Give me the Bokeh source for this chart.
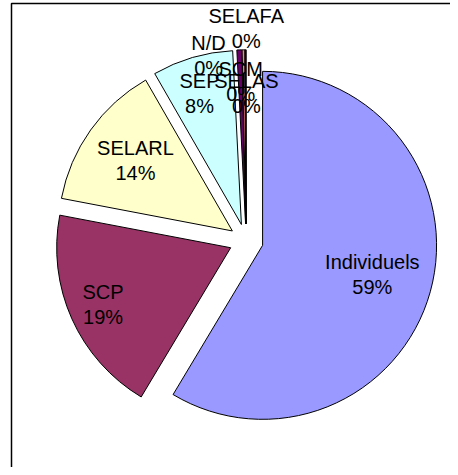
import math
from bokeh.plotting import figure
from bokeh.models import Range1d, ColumnDataSource
from bokeh.embed import file_html
from bokeh.resources import INLINE
from bokeh.core.properties import value

# ---- data ----
categories = ["Individuels", "SCP", "SELARL", "SEP", "SCM", "SELAS", "N/D", "SELAFA"]
shares = [58.6, 19.4, 13.7, 7.5, 0.45, 0.25, 0.05, 0.05]
colors = ["#9999FF", "#993366", "#FFFFCC", "#CCFFFF", "#660066", "#FF8080", "#0066CC", "#CCCCFF"]

# ---- layout (label placement relative to slice mid-angle) ----
label_dist = [130.5, 156.7, 136.8, 154.5, 159.4, 147.3, 189.1, 212.3]
label_shift = [-0.6, 0.1, 0.5, -1.2, 0.1, 0.9, -11.2, 0.1]

W, H = 450, 467
cx, cy, R, explode = 245.7, -240.3, 174.0, 17.0

p = figure(width=W, height=H, output_backend="svg", toolbar_location=None,
           x_range=Range1d(0, W), y_range=Range1d(-H, 0),
           x_axis_type=None, y_axis_type=None, min_border=0)
p.grid.visible = False
p.outline_line_color = None
p.background_fill_color = "white"
p.border_fill_color = "white"

# chart area border (only left and top edges are visible)
p.quad(left=[11], right=[520], top=[-3], bottom=[-520], fill_color=None,
       line_color="black", line_width=1.5)

total = sum(shares)
xs, ys, starts, ends, lx, ly, texts = [], [], [], [], [], [], []
acc = 0.0
for i, (cat, v) in enumerate(zip(categories, shares)):
    t1 = acc / total * 360.0
    acc += v
    t2 = acc / total * 360.0
    mid = (t1 + t2) / 2.0
    m = math.radians(mid)
    xs.append(cx + explode * math.sin(m))
    ys.append(cy + explode * math.cos(m))
    starts.append(math.radians(90.0 - t2))
    ends.append(math.radians(90.0 - t1))
    a = math.radians(mid + label_shift[i])
    lx.append(cx + label_dist[i] * math.sin(a))
    ly.append(cy + label_dist[i] * math.cos(a))
    pct = int(math.floor(v / total * 100.0 + 0.5))
    texts.append(f"{cat}\n{pct}%")

src = ColumnDataSource(dict(x=xs, y=ys, start=starts, end=ends, color=colors))
p.wedge(x="x", y="y", radius=R, start_angle="start", end_angle="end",
        direction="anticlock", fill_color="color", line_color="black",
        line_width=1, source=src)

lsrc = ColumnDataSource(dict(x=lx, y=ly, text=texts))
p.text(x="x", y="y", text="text", source=lsrc, text_align="center",
       text_baseline="middle", text_font=value("Liberation Sans"),
       text_font_size="20px", text_line_height=1.15, text_color="black")

open("out.html", "w").write(file_html(p, INLINE))
